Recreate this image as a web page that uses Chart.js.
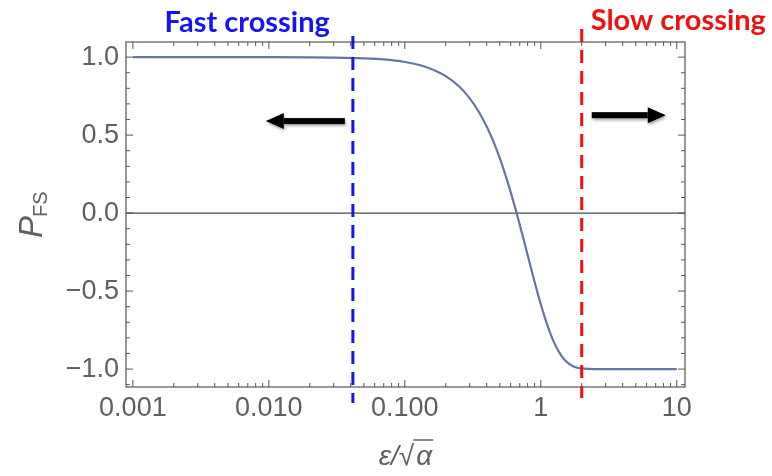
<!DOCTYPE html>
<html>
<head>
<meta charset="utf-8">
<script src="https://cdn.jsdelivr.net/npm/chart.js@4.4.0/dist/chart.umd.min.js"></script>
<style>
  html, body { margin: 0; padding: 0; background: #fff; }
  #wrap { width: 772px; height: 476px; }
</style>
</head>
<body>
<div id="wrap"><canvas id="chart"></canvas></div>
<script>
// eps/sqrt(alpha) sample points and the final-state probability at each
const epsRatio = [0.001, 0.003, 0.01, 0.02, 0.03, 0.05, 0.07, 0.1, 0.13, 0.16, 0.2, 0.25, 0.3, 0.35, 0.4, 0.45, 0.5, 0.55, 0.6, 0.65, 0.7, 0.75, 0.8, 0.9, 1.0, 1.1, 1.2, 1.3, 1.4, 1.5, 1.6, 1.7, 1.8, 1.9, 2.0, 2.2, 2.5, 3, 5, 10]
const pFS = [1.0, 1.0, 1.0, 0.999, 0.997, 0.992, 0.985, 0.969, 0.948, 0.921, 0.878, 0.813, 0.736, 0.650, 0.555, 0.455, 0.351, 0.244, 0.136, 0.030, -0.074, -0.173, -0.268, -0.440, -0.584, -0.701, -0.792, -0.859, -0.908, -0.942, -0.964, -0.979, -0.988, -0.993, -0.996, -0.999, -1.0, -1.0, -1.0, -1.0]

const xTicks = [0.001, 0.01, 0.1, 1, 10]
const xTickLabels = ["0.001", "0.010", "0.100", "1", "10"]
const yTicks = [-1, -0.5, 0, 0.5, 1]
const yTickLabels = ["\u22121.0", "\u22120.5", "0.0", "0.5", "1.0"]

// regime boundaries
const fastLimit = 0.0415
const slowLimit = 2.0

const gray = "#5f5f5f"
const tickFont = "Liberation Sans"

function minorXTicks() {
    let out = []
    for (let d = 0.001; d < 10; d *= 10) {
        for (let m = 2; m <= 9; m++) out.push(+(m * d).toPrecision(3))
    }
    return out
}

function minorYTicks() {
    let out = []
    for (let i = -11; i <= 10; i++) {
        if (i % 5 !== 0) out.push(i / 10)
    }
    return out
}

function drawArrow(ctx, x1, x2, y) {
    let dir = x2 > x1 ? 1 : -1
    let head = 18
    ctx.save()
    ctx.shadowColor = "rgba(0,0,0,0.35)"
    ctx.shadowBlur = 3
    ctx.shadowOffsetX = 1
    ctx.shadowOffsetY = 2
    ctx.fillStyle = "#000"
    ctx.fillRect(Math.min(x1, x2 - dir * head), y - 3, Math.abs(x2 - dir * head - x1), 6)
    ctx.beginPath()
    ctx.moveTo(x2, y)
    ctx.lineTo(x2 - dir * head, y - 8)
    ctx.lineTo(x2 - dir * head, y + 8)
    ctx.closePath()
    ctx.fill()
    ctx.restore()
}

const framePlugin = {
    id: "frame",
    beforeDatasetsDraw(chart) {
        let ctx = chart.ctx
        let a = chart.chartArea
        let xs = chart.scales.x
        let ys = chart.scales.y
        ctx.save()
        // zero axis
        ctx.strokeStyle = "#4a4a4a"
        ctx.lineWidth = 1.3
        ctx.beginPath()
        ctx.moveTo(a.left, ys.getPixelForValue(0))
        ctx.lineTo(a.right, ys.getPixelForValue(0))
        ctx.stroke()
        // frame
        ctx.strokeStyle = "#555"
        ctx.lineWidth = 1.2
        ctx.strokeRect(a.left, a.top, a.right - a.left, a.bottom - a.top)
        // ticks pointing inward on all four sides
        ctx.lineWidth = 1
        ctx.beginPath()
        xTicks.concat(minorXTicks()).forEach(function (v) {
            let px = xs.getPixelForValue(v)
            let len = xTicks.includes(v) ? 7 : 4
            ctx.moveTo(px, a.bottom); ctx.lineTo(px, a.bottom - len)
            ctx.moveTo(px, a.top); ctx.lineTo(px, a.top + len)
        })
        yTicks.concat(minorYTicks()).forEach(function (v) {
            let py = ys.getPixelForValue(v)
            let len = yTicks.includes(v) ? 7 : 4
            ctx.moveTo(a.left, py); ctx.lineTo(a.left + len, py)
            ctx.moveTo(a.right, py); ctx.lineTo(a.right - len, py)
        })
        ctx.stroke()
        ctx.restore()
    },
    afterDatasetsDraw(chart) {
        let ctx = chart.ctx
        let xs = chart.scales.x
        let ys = chart.scales.y
        ctx.save()
        ctx.lineWidth = 3
        ctx.setLineDash([13, 8])
        ctx.strokeStyle = "#1414f0"
        let bx = xs.getPixelForValue(fastLimit)
        ctx.beginPath()
        ctx.moveTo(bx, ys.getPixelForValue(1.135))
        ctx.lineTo(bx, ys.getPixelForValue(-1.218))
        ctx.stroke()
        ctx.strokeStyle = "#f01010"
        let rx = xs.getPixelForValue(slowLimit)
        ctx.beginPath()
        ctx.moveTo(rx, ys.getPixelForValue(1.18))
        ctx.lineTo(rx, ys.getPixelForValue(-1.186))
        ctx.stroke()
        ctx.restore()

        drawArrow(ctx, xs.getPixelForValue(0.0362), xs.getPixelForValue(0.0095), ys.getPixelForValue(0.59))
        drawArrow(ctx, xs.getPixelForValue(2.37), xs.getPixelForValue(8.3), ys.getPixelForValue(0.628))
    },
    afterDraw(chart) {
        let ctx = chart.ctx
        let a = chart.chartArea
        let xs = chart.scales.x
        ctx.save()
        // regime labels
        ctx.font = "bold 29px Lato"
        ctx.textBaseline = "alphabetic"
        ctx.fillStyle = "#1414f0"
        ctx.textAlign = "right"
        ctx.fillText("Fast crossing", xs.getPixelForValue(fastLimit) - 23, 32)
        ctx.fillStyle = "#f01010"
        ctx.textAlign = "left"
        ctx.fillText("Slow crossing", xs.getPixelForValue(slowLimit) + 9, 30)

        // y title: P_FS
        ctx.fillStyle = gray
        ctx.translate(42, 238)
        ctx.rotate(-Math.PI / 2)
        ctx.textAlign = "left"
        ctx.font = "italic 33px " + tickFont
        ctx.fillText("P", 0, 0)
        let pw = ctx.measureText("P").width
        ctx.font = "20px " + tickFont
        ctx.fillText("FS", pw - 1, 5)
        ctx.restore()

        // x title: eps / sqrt(alpha)
        ctx.save()
        ctx.fillStyle = gray
        ctx.strokeStyle = gray
        ctx.textBaseline = "alphabetic"
        ctx.textAlign = "left"
        let base = 465
        ctx.font = "italic 28px " + tickFont
        let w1 = ctx.measureText("\u03b5/").width
        let w3 = ctx.measureText("\u03b1").width
        ctx.font = "28px " + tickFont
        let w2 = ctx.measureText("\u221a").width
        let x0 = (a.left + a.right) / 2 - (w1 + w2 + w3 + 2) / 2
        ctx.font = "italic 28px " + tickFont
        ctx.fillText("\u03b5/", x0, base)
        ctx.font = "28px " + tickFont
        ctx.fillText("\u221a", x0 + w1, base)
        ctx.font = "italic 28px " + tickFont
        ctx.fillText("\u03b1", x0 + w1 + w2 + 2, base)
        ctx.lineWidth = 1.5
        ctx.beginPath()
        ctx.moveTo(x0 + w1 + w2 - 1, base - 25)
        ctx.lineTo(x0 + w1 + w2 + w3 + 3, base - 25)
        ctx.stroke()
        ctx.restore()
    }
}

new Chart(document.getElementById("chart"), {
    type: "line",
    data: {
        datasets: [{
            data: epsRatio.map(function (x, i) { return { x: x, y: pFS[i] } }),
            borderColor: "#6676a3",
            borderWidth: 2.2,
            pointRadius: 0,
            cubicInterpolationMode: "monotone",
            fill: false
        }]
    },
    plugins: [framePlugin],
    options: {
        responsive: true,
        maintainAspectRatio: false,
        animation: false,
        layout: { padding: { left: 0, top: 42, right: 87, bottom: 0 } },
        plugins: { legend: { display: false }, tooltip: { enabled: false } },
        scales: {
            x: {
                type: "logarithmic",
                min: 0.00089,
                max: 11.5,
                grid: { display: false, drawTicks: false },
                border: { display: false },
                afterBuildTicks: function (scale) {
                    scale.ticks = xTicks.map(function (v) { return { value: v } })
                },
                afterFit: function (scale) { scale.height = 89 },
                ticks: {
                    autoSkip: false,
                    maxRotation: 0,
                    padding: 5,
                    color: gray,
                    font: { family: tickFont, size: 27 },
                    callback: function (v) { return xTickLabels[xTicks.indexOf(v)] }
                }
            },
            y: {
                min: -1.115,
                max: 1.097,
                grid: { display: false, drawTicks: false },
                border: { display: false },
                afterBuildTicks: function (scale) {
                    scale.ticks = yTicks.map(function (v) { return { value: v } })
                },
                afterFit: function (scale) { scale.width = 126 },
                ticks: {
                    autoSkip: false,
                    padding: 7,
                    color: gray,
                    font: { family: tickFont, size: 27 },
                    callback: function (v) { return yTickLabels[yTicks.indexOf(v)] }
                }
            }
        }
    }
})
</script>
</body>
</html>
